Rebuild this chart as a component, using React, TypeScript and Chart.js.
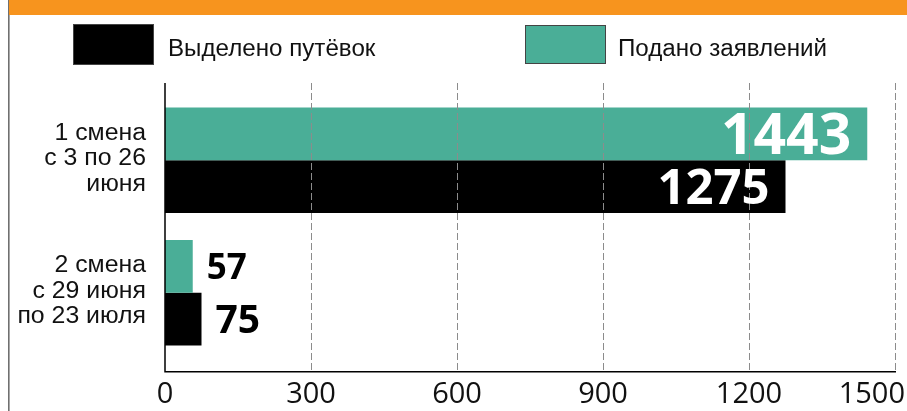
import { useEffect, useRef } from "react";
import { Chart, registerables } from "chart.js";

Chart.register(...registerables);

// ---- data ----
const categories: string[][] = [
  ["1 смена", "с 3 по 26", "июня"],
  ["2 смена", "с 29 июня", "по 23 июля"],
];
const seriesApplied = "Подано заявлений";
const seriesAllocated = "Выделено путёвок";
const appliedValues = [1443, 57];
const allocatedValues = [1275, 75];
const xMin = 0;
const xMax = 1500;
const xStep = 300;

// ---- styles ----
const TEAL = "#4aae97";
const BLACK = "#000000";
const ORANGE = "#f7941e";
const GRID = "#8c8c8c";
const VALUE_FONT_SIZES = [
  [57, 35],
  [49, 39],
];
const PLOT_TOP = 83;
const PLOT_BOTTOM = 371;

export default function App() {
  const ref = useRef<HTMLCanvasElement | null>(null);

  useEffect(() => {
    if (!ref.current) return;

    const framePlugin = {
      id: "frame",
      beforeDraw(chart: any) {
        const ctx = chart.ctx;
        ctx.save();
        ctx.fillStyle = "#ffffff";
        ctx.fillRect(0, 0, chart.width, chart.height);
        ctx.fillStyle = "#707070";
        ctx.fillRect(8, 0, 1.6, chart.height);
        ctx.fillStyle = ORANGE;
        ctx.fillRect(9, 0, chart.width - 9, 15);
        ctx.restore();
      },
    };

    const gridPlugin = {
      id: "extGrid",
      afterDatasetsDraw(chart: any) {
        const ctx = chart.ctx;
        const xs = chart.scales.x;
        const x0 = xs.getPixelForValue(xMin);
        const x1 = xs.getPixelForValue(xMax);
        ctx.save();
        // dashed grid lines (on top of bars)
        ctx.strokeStyle = GRID;
        ctx.lineWidth = 1;
        ctx.setLineDash([7, 3]);
        for (const t of xs.ticks) {
          if (t.value === xMin) continue;
          const px = Math.round(xs.getPixelForValue(t.value)) + 0.5;
          ctx.beginPath();
          ctx.moveTo(px, PLOT_TOP);
          ctx.lineTo(px, PLOT_BOTTOM);
          ctx.stroke();
        }
        ctx.setLineDash([]);
        // axes
        ctx.strokeStyle = "#000";
        ctx.lineWidth = 1.5;
        ctx.beginPath();
        ctx.moveTo(x0, PLOT_TOP);
        ctx.lineTo(x0, PLOT_BOTTOM + 0.75);
        ctx.lineTo(x1 + 1, PLOT_BOTTOM + 0.75);
        ctx.stroke();
        ctx.restore();
      },
    };

    const legendPlugin = {
      id: "customLegend",
      afterDraw(chart: any) {
        const ctx = chart.ctx;
        const ds = chart.data.datasets;
        const items = [
          { ds: ds[1], box: [73, 24, 81, 41], tx: 168 },
          { ds: ds[0], box: [525, 25, 81, 39], tx: 618 },
        ];
        ctx.save();
        for (const it of items) {
          const [bx, by, bw, bh] = it.box;
          ctx.fillStyle = it.ds.backgroundColor;
          ctx.fillRect(bx, by, bw, bh);
          ctx.strokeStyle = "#444";
          ctx.lineWidth = 1;
          ctx.strokeRect(bx + 0.5, by + 0.5, bw - 1, bh - 1);
          ctx.fillStyle = "#111";
          ctx.font = '23px "Liberation Sans", Arial, sans-serif';
          ctx.textAlign = "left";
          ctx.textBaseline = "alphabetic";
          ctx.save();
          ctx.translate(it.tx, 56);
          ctx.scale(1.05, 1);
          ctx.fillText(it.ds.label, 0, 0);
          ctx.restore();
        }
        ctx.restore();
      },
    };

    const axisLabelsPlugin = {
      id: "axisLabels",
      afterDraw(chart: any) {
        const ctx = chart.ctx;
        const xs = chart.scales.x;
        const ys = chart.scales.y;
        ctx.save();
        // x tick labels
        ctx.font = '29px "Open Sans", sans-serif';
        ctx.fillStyle = "#111";
        ctx.textAlign = "center";
        ctx.textBaseline = "alphabetic";
        for (const t of xs.ticks) {
          const label = String(t.value);
          const px = xs.getPixelForValue(t.value);
          const w = ctx.measureText(label).width;
          const cx = Math.min(px, chart.width - 2 - w / 2);
          ctx.fillText(label, cx, 403);
        }
        // category labels
        ctx.font = '23px "Liberation Sans", Arial, sans-serif';
        ctx.fillStyle = "#111";
        ctx.textAlign = "right";
        const lineH = 25.5;
        categories.forEach((lines, i) => {
          const cy = ys.getPixelForValue(i);
          const n = lines.length;
          lines.forEach((line, k) => {
            const by = cy + 5 + (k - (n - 1) / 2) * lineH;
            ctx.save();
            ctx.translate(146, by);
            ctx.scale(1.08, 1);
            ctx.fillText(line, 0, 0);
            ctx.restore();
          });
        });
        ctx.restore();
      },
    };

    const valueLabelsPlugin = {
      id: "valueLabels",
      afterDatasetsDraw(chart: any) {
        const ctx = chart.ctx;
        ctx.save();
        chart.data.datasets.forEach((ds: any, d: number) => {
          const meta = chart.getDatasetMeta(d);
          meta.data.forEach((el: any, i: number) => {
            const v = ds.data[i];
            const size = VALUE_FONT_SIZES[d][i];
            ctx.font = `700 ${size}px "Open Sans", sans-serif`;
            ctx.textBaseline = "alphabetic";
            const baseY = el.y + size * 0.357;
            const label = String(v);
            if (v > 600) {
              ctx.fillStyle = "#ffffff";
              ctx.textAlign = "right";
              ctx.fillText(label, el.x - 16, baseY);
            } else {
              ctx.fillStyle = "#000000";
              ctx.textAlign = "left";
              ctx.fillText(label, el.x + 14, baseY);
            }
          });
        });
        ctx.restore();
      },
    };

    const chart = new Chart(ref.current, {
      type: "bar",
      data: {
        labels: categories.map((c) => c.join(" ")),
        datasets: [
          {
            label: seriesApplied,
            data: appliedValues,
            backgroundColor: TEAL,
            borderWidth: 0,
            categoryPercentage: 0.795,
            barPercentage: 1,
          },
          {
            label: seriesAllocated,
            data: allocatedValues,
            backgroundColor: BLACK,
            borderWidth: 0,
            categoryPercentage: 0.795,
            barPercentage: 1,
          },
        ],
      } as any,
      options: {
        responsive: false,
        animation: false,
        devicePixelRatio: 1,
        indexAxis: "y",
        layout: { padding: { left: 165, top: 94, right: 12, bottom: 52 } },
        plugins: {
          legend: { display: false },
          tooltip: { enabled: false },
          title: { display: false },
        },
        scales: {
          x: {
            type: "linear",
            position: "bottom",
            min: xMin,
            max: xMax,
            ticks: { display: false, stepSize: xStep },
            grid: { display: false, drawTicks: false },
            border: { display: false },
          },
          y: {
            type: "category",
            offset: true,
            ticks: { display: false },
            grid: { display: false, drawTicks: false },
            border: { display: false },
          },
        },
      } as any,
      plugins: [framePlugin, gridPlugin, valueLabelsPlugin, axisLabelsPlugin, legendPlugin],
    });

    return () => chart.destroy();
  }, []);

  return (
    <div
      style={{
        position: "fixed",
        left: 0,
        top: 0,
        width: 907,
        height: 411,
        background: "#fff",
      }}
    >
      <canvas
        ref={ref}
        width={907}
        height={411}
        style={{ width: 907, height: 411, display: "block" }}
      />
    </div>
  );
}
